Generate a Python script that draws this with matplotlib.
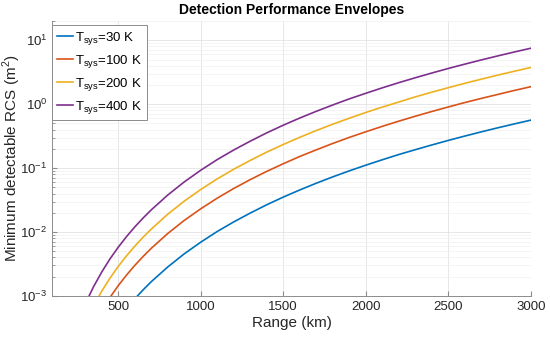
import numpy as np
import matplotlib.pyplot as plt

plt.rcParams['font.family'] = ['Liberation Sans', 'DejaVu Sans']
plt.rcParams['mathtext.fontset'] = 'custom'
plt.rcParams['mathtext.rm'] = 'Liberation Sans'

# range samples (km)
range_km = [300, 350, 400, 450, 500, 550, 600, 650, 700, 800, 900, 1000,
            1100, 1200, 1300, 1400, 1500, 1600, 1700, 1800, 1900, 2000,
            2100, 2200, 2300, 2400, 2500, 2600, 2700, 2800, 2900, 3000]

# minimum detectable RCS (m^2)
rcs_30 = [5.6e-5, 1.04e-4, 1.78e-4, 2.85e-4, 4.34e-4, 6.36e-4, 9.0e-4, 1.24e-3,
          1.67e-3, 2.84e-3, 4.56e-3, 6.94e-3, 1.02e-2, 1.44e-2, 1.98e-2, 2.67e-2,
          3.52e-2, 4.55e-2, 5.80e-2, 7.29e-2, 9.05e-2, 0.111, 0.135, 0.163,
          0.194, 0.230, 0.271, 0.317, 0.369, 0.427, 0.491, 0.5625]
rcs_100 = [1.88e-4, 3.47e-4, 5.93e-4, 9.49e-4, 1.45e-3, 2.12e-3, 3.0e-3, 4.13e-3,
           5.56e-3, 9.48e-3, 1.52e-2, 2.31e-2, 3.39e-2, 4.8e-2, 6.61e-2, 8.89e-2,
           0.117, 0.152, 0.193, 0.243, 0.302, 0.370, 0.450, 0.542,
           0.648, 0.768, 0.904, 1.06, 1.23, 1.42, 1.64, 1.875]
rcs_200 = [3.75e-4, 6.95e-4, 1.19e-3, 1.90e-3, 2.90e-3, 4.24e-3, 6.0e-3, 8.27e-3,
           1.11e-2, 1.90e-2, 3.04e-2, 4.63e-2, 6.78e-2, 9.6e-2, 0.132, 0.178,
           0.234, 0.303, 0.387, 0.486, 0.603, 0.741, 0.900, 1.08,
           1.30, 1.54, 1.81, 2.12, 2.46, 2.85, 3.27, 3.75]
rcs_400 = [7.5e-4, 1.39e-3, 2.37e-3, 3.80e-3, 5.79e-3, 8.47e-3, 1.2e-2, 1.65e-2,
           2.22e-2, 3.79e-2, 6.08e-2, 9.26e-2, 0.136, 0.192, 0.264, 0.356,
           0.469, 0.607, 0.773, 0.972, 1.21, 1.48, 1.80, 2.17,
           2.59, 3.07, 3.62, 4.23, 4.92, 5.69, 6.55, 7.5]

tsys = [30, 100, 200, 400]
series = [rcs_30, rcs_100, rcs_200, rcs_400]
colors = ['#0072BD', '#D95319', '#EDB120', '#7E2F8E']

fig = plt.figure(figsize=(5.5, 3.39), dpi=100)
ax = fig.add_axes([0.095, 0.127, 0.87, 0.811])

for t, y, c in zip(tsys, series, colors):
    ax.semilogy(range_km, y, color=c, lw=1.2,
                label=r'T$_{\mathrm{sys}}$=%d K' % t)

ax.set_xlim(100, 3000)
ax.set_ylim(1e-3, 20)
ax.set_xticks([500, 1000, 1500, 2000, 2500, 3000])
ax.set_yticks([1e-3, 1e-2, 1e-1, 1e0, 1e1])

ax.grid(True, which='major', color='#e3e3e3', lw=0.6)
ax.grid(True, which='minor', axis='y', color='#f0f0f0', lw=0.5)
ax.set_axisbelow(True)

for s in ['top', 'right']:
    ax.spines[s].set_visible(False)
for s in ['left', 'bottom']:
    ax.spines[s].set_color('#8c8c8c')
    ax.spines[s].set_linewidth(0.7)
ax.tick_params(which='both', direction='in', colors='#8c8c8c', labelcolor='#262626',
               labelsize=9.5)
ax.tick_params(which='major', length=3.5)
ax.tick_params(which='minor', length=2)

ax.set_xlabel('Range (km)', fontsize=11, color='#262626', labelpad=2)
ax.set_ylabel(r'Minimum detectable RCS (m$^2$)', fontsize=11, color='#262626')
ax.yaxis.set_label_coords(-0.062, 0.5)
ax.set_title('Detection Performance Envelopes', fontsize=10, fontweight='bold', pad=5)

leg = ax.legend(loc='upper left', bbox_to_anchor=(0.0, 0.985), fontsize=9.5,
                fancybox=False, framealpha=1, edgecolor='#8c8c8c',
                handlelength=1.2, handletextpad=0.2, borderaxespad=0.0,
                labelspacing=0.45, borderpad=0.35)
leg.get_frame().set_linewidth(0.7)

fig.savefig('out.png', dpi=100)
